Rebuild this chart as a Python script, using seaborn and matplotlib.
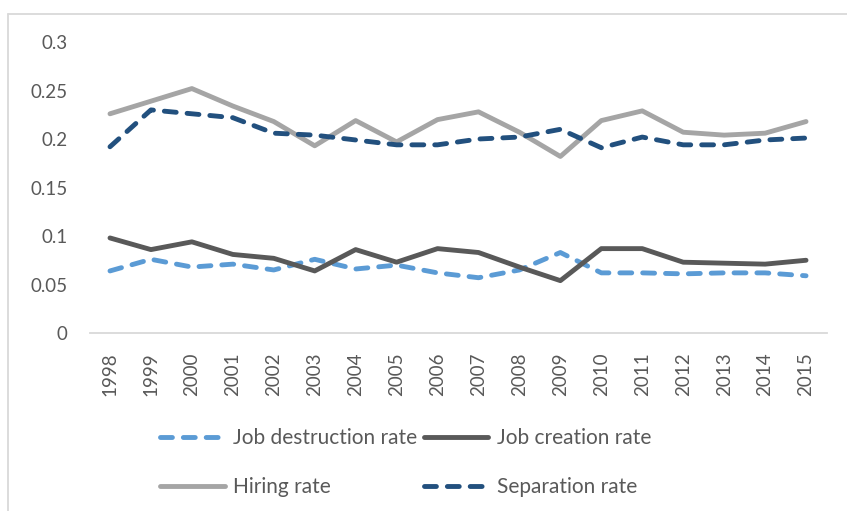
"""
Job flows 1998-2015: creation, destruction, hiring and separation rates
"""

import matplotlib.pyplot as plt
import pandas as pd
import seaborn as sns
from matplotlib.lines import Line2D

# ============================================================================
# DATA
# ============================================================================

years = list(range(1998, 2016))

job_destruction = [0.064, 0.076, 0.068, 0.071, 0.065, 0.076, 0.066, 0.070, 0.062,
                   0.057, 0.065, 0.083, 0.062, 0.062, 0.061, 0.062, 0.062, 0.059]
job_creation = [0.098, 0.086, 0.094, 0.081, 0.077, 0.064, 0.086, 0.073, 0.087,
                0.083, 0.068, 0.054, 0.087, 0.087, 0.073, 0.072, 0.071, 0.075]
hiring = [0.226, 0.239, 0.252, 0.234, 0.218, 0.193, 0.219, 0.197, 0.220,
          0.228, 0.207, 0.182, 0.219, 0.229, 0.207, 0.204, 0.206, 0.218]
separation = [0.192, 0.230, 0.226, 0.222, 0.206, 0.204, 0.199, 0.194, 0.194,
              0.200, 0.202, 0.210, 0.191, 0.202, 0.194, 0.194, 0.199, 0.201]

y_ticks = [0, 0.05, 0.1, 0.15, 0.2, 0.25, 0.3]
y_tick_labels = ["0", "0.05", "0.1", "0.15", "0.2", "0.25", "0.3"]

series = {
    "Job destruction rate": job_destruction,
    "Job creation rate": job_creation,
    "Hiring rate": hiring,
    "Separation rate": separation,
}

df = pd.DataFrame({"year": years, **series})

# ============================================================================
# STYLE
# ============================================================================

sns.set_style("white")
plt.rcParams["font.family"] = ["Lato", "DejaVu Sans"]
plt.rcParams["font.size"] = 13.5

text_color = "#595959"
dash = (0, (2.45, 2.25))
styles = {
    "Job destruction rate": dict(color="#5B9BD5", linestyle=dash),
    "Job creation rate": dict(color="#595959", linestyle="-"),
    "Hiring rate": dict(color="#A5A5A5", linestyle="-"),
    "Separation rate": dict(color="#22507E", linestyle=dash),
}

fig = plt.figure(figsize=(8.47, 5.11), dpi=100)
ax = fig.add_axes([0.1057, 0.3483, 0.8701, 0.5695])

handles = {}
for name in series:
    sns.lineplot(data=df, x="year", y=name, ax=ax, linewidth=3.5,
                 dash_capstyle="round", solid_capstyle="round",
                 solid_joinstyle="round", label=name, legend=False,
                 **styles[name])
    handles[name] = ax.get_lines()[-1]

ax.set_xlim(1997.5, 2015.5)
ax.set_ylim(0, 0.3)
ax.set_xticks(years)
ax.set_xticklabels([str(y) for y in years], rotation=90, color=text_color)
ax.set_yticks(y_ticks)
ax.set_yticklabels(y_tick_labels, color=text_color)
ax.tick_params(axis="x", length=0, pad=14)
ax.tick_params(axis="y", length=0, pad=16)
ax.set_xlabel("")
ax.set_ylabel("")

for side in ["top", "right", "left"]:
    ax.spines[side].set_visible(False)
ax.spines["bottom"].set_color("#D9D9D9")
ax.spines["bottom"].set_linewidth(1.3)

# Legend: row 1 = destruction, creation; row 2 = hiring, separation
order = ["Job destruction rate", "Hiring rate", "Job creation rate", "Separation rate"]
fig.legend([handles[n] for n in order], order, loc="center",
           bbox_to_anchor=(0.479, 0.095), ncol=2, frameon=False,
           fontsize=15, handlelength=3.1, handletextpad=0.4,
           columnspacing=0.3, labelspacing=1.4, labelcolor=text_color)

# Chart frame (top and left edges visible in the reference)
fig.add_artist(Line2D([0.0094, 1.0], [0.9726, 0.9726], color="#D9D9D9",
                      linewidth=1.3, transform=fig.transFigure))
fig.add_artist(Line2D([0.0094, 0.0094], [0.0, 0.9726], color="#D9D9D9",
                      linewidth=1.3, transform=fig.transFigure))

fig.savefig("out.png", dpi=100)
